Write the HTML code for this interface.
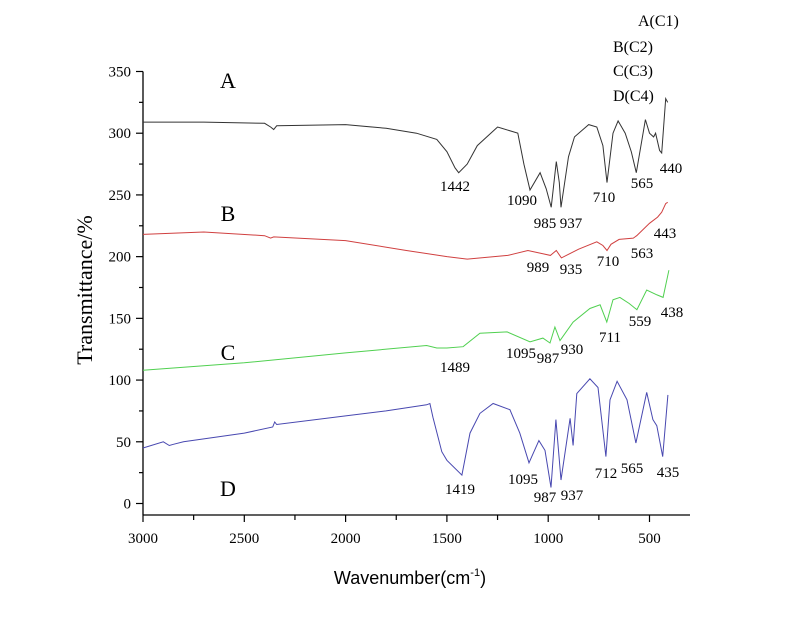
<!DOCTYPE html>
<html><head><meta charset="utf-8"><style>
body{margin:0;background:#fff;}
svg{display:block;}
</style></head><body>
<svg id="chart" width="800" height="617" xmlns="http://www.w3.org/2000/svg">
<g id="axes"></g>
<g id="series"></g>
<g id="labels"></g>
<g font-family="Liberation Serif, serif" font-size="22">
<text x="228" y="88" text-anchor="middle">A</text>
<text x="228" y="221" text-anchor="middle">B</text>
<text x="228" y="360" text-anchor="middle">C</text>
<text x="228" y="496" text-anchor="middle">D</text>
</g>
<g font-family="Liberation Serif, serif" font-size="16">
<text x="638" y="26">A(C1)</text>
<text x="613" y="52">B(C2)</text>
<text x="613" y="76">C(C3)</text>
<text x="613" y="101">D(C4)</text>
</g>
<text font-family="Liberation Serif, serif" font-size="22" transform="translate(92,290) rotate(-90)" text-anchor="middle">Transmittance/%</text>
<text x="410" y="584" font-family="Liberation Sans, sans-serif" font-size="18" text-anchor="middle">Wavenumber(cm<tspan font-size="11" dy="-8">-1</tspan><tspan dy="8">)</tspan></text>
</svg>
<script>
const xTicks=[3000,2500,2000,1500,1000,500];
const yTicks=[0,50,100,150,200,250,300,350];
const aW=[3000,2700,2400,2370,2355,2340,2000,1800,1650,1550,1500,1460,1442,1400,1350,1250,1150,1120,1090,1040,1010,985,960,945,937,900,870,800,760,730,710,680,655,620,590,565,520,500,480,470,450,440,420,410];
const aV=[309,309,308,305,303,306,307,304,300,295,285,272,268,275,290,305,300,275,254,268,255,240,277,260,240,281,297,307,305,290,260,300,310,300,285,268,311,300,297,300,286,284,328,325];
const bW=[3000,2700,2400,2370,2355,2000,1700,1500,1400,1200,1100,989,960,935,850,760,730,710,690,650,580,563,500,460,440,420,410];
const bV=[218,220,217,215,216,213,205,200,198,201,205,201,205,199,206,212,209,205,210,214,215,217,227,232,236,243,244];
const cW=[3000,2500,2000,1600,1550,1500,1420,1337,1203,1090,1026,991,967,942,877,794,744,711,680,646,600,562,514,463,433,404];
const cV=[108,114,122,128,126,126,127,138,139,131,134,130,143,132,147,158,161,147,165,167,162,157,173,169,167,189];
const dW=[3000,2900,2870,2850,2800,2500,2360,2350,2340,2000,1800,1600,1584,1569,1525,1500,1426,1386,1337,1272,1189,1140,1095,1046,1016,986,962,937,892,877,859,794,754,715,695,660,611,567,514,483,464,435,409];
const dV=[45,50,47,48,50,57,62,66,64,71,75,80,81,70,42,35,23,57,73,81,76,57,33,51,43,13,68,19,69,47,89,101,94,38,84,99,84,49,90,68,63,38,88];
const peakText=["1442","1090","985","937","710","565","440","989","935","710","563","443","1489","1095","987","930","711","559","438","1419","1095","987","937","712","565","435"];
const peakPos=[[455,186],[522,200],[545,223],[571,223],[604,197],[642,183],[671,168],[538,267],[571,269],[608,261],[642,253],[665,233],[455,367],[521,353],[548,358],[572,349],[610,337],[640,321],[672,312],[460,489],[523,479],[545,497],[572,495],[606,473],[632,468],[668,472]];
const X=w=>143+(3000-w)*0.2026;
const Y=v=>503.5-v*1.2343;
const NS="http://www.w3.org/2000/svg";
const SERIF="Liberation Serif, serif";
function mk(tag,attrs,parent){const e=document.createElementNS(NS,tag);for(const k in attrs)e.setAttribute(k,attrs[k]);parent.appendChild(e);return e;}
const ax=document.getElementById('axes');
let e=mk('line',{x1:143,y1:Y(350),x2:143,y2:515,stroke:'#000','stroke-width':1.3},ax);


e=mk('line',{x1:143,y1:515,x2:690,y2:515,stroke:'#000','stroke-width':1.3},ax);


for(let v=0;v<=350;v+=25){const big=v%50===0;mk('line',{x1:big?136:139,y1:Y(v),x2:143,y2:Y(v),stroke:'#000','stroke-width':1.2},ax);}
for(let w=3000;w>=500;w-=250){const big=w%500===0;mk('line',{x1:X(w),y1:515,x2:X(w),y2:big?522:520,stroke:'#000','stroke-width':1.2},ax);}
yTicks.forEach(v=>{const t=mk('text',{x:131,y:Y(v)+5,'text-anchor':'end','font-size':15,'font-family':SERIF},ax);t.textContent=v;

});
xTicks.forEach(w=>{const t=mk('text',{x:X(w),y:543,'text-anchor':'middle','font-size':15,'font-family':SERIF},ax);t.textContent=w;

});
const sg=document.getElementById('series');
[[aW,aV,'#333','series-a'],[bW,bV,'#d04040','series-b'],[cW,cV,'#50d050','series-c'],[dW,dV,'#4848b0','series-d']].forEach(s=>{
const p=mk('polyline',{points:s[0].map((w,i)=>X(w).toFixed(1)+','+Y(s[1][i]).toFixed(1)).join(' '),fill:'none',stroke:s[2],'stroke-width':1},sg);

});
const lg=document.getElementById('labels');
peakText.forEach((s,i)=>{const t=mk('text',{x:peakPos[i][0],y:peakPos[i][1]+5,'text-anchor':'middle','font-size':15,'font-family':SERIF},lg);t.textContent=s;

});
</script>
</body></html>
